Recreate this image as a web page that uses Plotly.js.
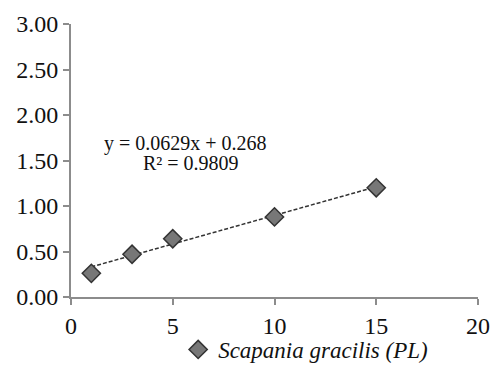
<!DOCTYPE html>
<html><head><meta charset="utf-8">
<script src="https://cdn.plot.ly/plotly-3.0.1.min.js"></script>
<style>html,body{margin:0;padding:0;background:#fff}#c{width:493px;height:371px}</style>
</head><body><div id="c"></div>
<script>
const xValues = [1, 3, 5, 10, 15];
const yValues = [0.26, 0.47, 0.64, 0.88, 1.20];
const slope = 0.0629;
const intercept = 0.268;
const seriesName = "Scapania gracilis (PL)";
const eqLine1 = "y = 0.0629x + 0.268";
const eqLine2 = "R² = 0.9809";
const yTicks = [0, 0.5, 1, 1.5, 2, 2.5, 3];
const xTicks = [0, 5, 10, 15, 20];

const xFit = [Math.min(...xValues), Math.max(...xValues)];
const yFit = xFit.map(x => slope * x + intercept);

const font = "Liberation Serif, Times New Roman, serif";
const data = [
  {x: xFit, y: yFit, mode: "lines", line: {color: "#333", width: 1.5, dash: "4px,2px"}, showlegend: false, hoverinfo: "skip"},
  {x: xValues, y: yValues, mode: "markers", name: seriesName,
   marker: {symbol: "diamond", size: 14, color: "#777777", line: {color: "#333333", width: 1.5}}}
];
const axisCommon = {showgrid: false, zeroline: false, showline: true, linecolor: "#8c8c8c", linewidth: 2,
  ticks: "outside", ticklen: 6, tickcolor: "#8c8c8c", tickwidth: 2, tickfont: {family: font, size: 24, color: "#111"}};
const layout = {
  width: 493, height: 371,
  margin: {l: 71, r: 15, t: 24, b: 74},
  paper_bgcolor: "#fff", plot_bgcolor: "#fff",
  font: {family: font, size: 22, color: "#111"},
  xaxis: Object.assign({range: [0, 20], tickvals: xTicks, ticktext: xTicks.map(String)}, axisCommon),
  yaxis: Object.assign({range: [0, 3], tickvals: yTicks, ticktext: yTicks.map(v => v.toFixed(2))}, axisCommon),
  showlegend: true,
  legend: {orientation: "h", xref: "container", yref: "container", x: 0.62, xanchor: "center", y: 0.0, yanchor: "bottom",
           font: {family: font, size: 23, style: "italic", color: "#111"}, itemwidth: 30, tracegroupgap: 0,
           bgcolor: "rgba(0,0,0,0)"},
  annotations: [
    {x: 5.65, y: 1.69, xref: "x", yref: "y", text: eqLine1, showarrow: false, font: {family: font, size: 20, color: "#111"}},
    {x: 5.9, y: 1.47, xref: "x", yref: "y", text: eqLine2, showarrow: false, font: {family: font, size: 20, color: "#111"}}
  ]
};
Plotly.newPlot("c", data, layout, {displayModeBar: false, staticPlot: true});
</script></body></html>
